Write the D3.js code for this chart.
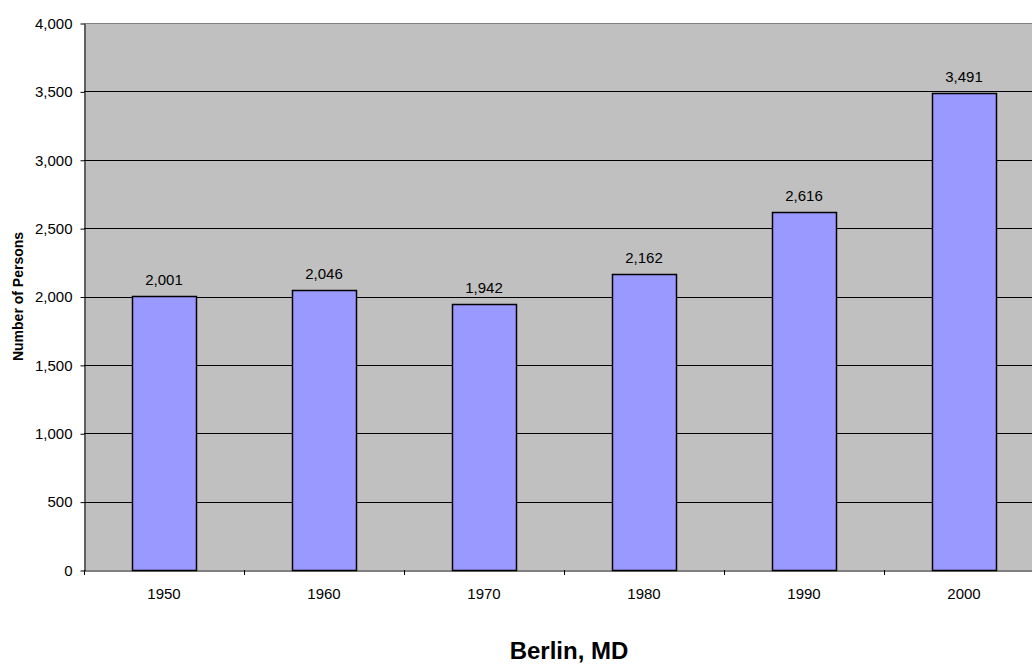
<!DOCTYPE html>
<html>
<head>
<meta charset="utf-8">
<script src="https://cdn.jsdelivr.net/npm/d3@7"></script>
<style>
  body { margin: 0; background: #fff; }
  svg { display: block; font-family: "Liberation Sans", Arial, sans-serif; }
</style>
</head>
<body>
<div id="chart"></div>
<script>
  // chart data
  const years = ["1950", "1960", "1970", "1980", "1990", "2000"];
  const persons = [2001, 2046, 1942, 2162, 2616, 3491];
  const yTicks = [0, 500, 1000, 1500, 2000, 2500, 3000, 3500, 4000];

  (function () {
  const data = years.map((y, i) => ({ year: y, value: persons[i] }));

  const W = 1032, H = 664;
  const plotLeft = 84, plotRight = 1044, plotTop = 23, plotBottom = 570;
  const fontFam = "Liberation Sans, Arial, sans-serif";

  const svg = d3.select("#chart")
    .append("svg")
    .attr("width", W)
    .attr("height", H);

  const x = d3.scaleBand()
    .domain(years)
    .range([plotLeft, plotRight])
    .paddingInner(0.6)
    .paddingOuter(0.3);

  const y = d3.scaleLinear()
    .domain([0, 4000])
    .range([plotBottom, plotTop]);

  // plot background
  svg.append("rect")
    .attr("x", plotLeft).attr("y", plotTop)
    .attr("width", plotRight - plotLeft).attr("height", plotBottom - plotTop)
    .attr("fill", "#c0c0c0");

  // gridlines
  svg.selectAll(".grid")
    .data(yTicks.filter(t => t > 0))
    .join("line")
    .attr("x1", plotLeft).attr("x2", plotRight)
    .attr("y1", d => Math.round(y(d)) + 0.5)
    .attr("y2", d => Math.round(y(d)) + 0.5)
    .attr("stroke", d => d === 4000 ? "#808080" : "#000")
    .attr("stroke-width", 1);

  // Y axis
  const yAxis = svg.append("g")
    .attr("transform", `translate(${plotLeft + 0.5},0.5)`)
    .call(d3.axisLeft(y).tickValues(yTicks).tickSize(4).tickSizeOuter(0)
      .tickFormat(d3.format(",")));
  yAxis.select(".domain").attr("stroke", "#000");
  yAxis.selectAll("text")
    .attr("font-size", 15)
    .attr("font-family", fontFam)
    .attr("fill", "#000")
    .attr("x", -12);

  // X axis: labels centred, ticks at category boundaries
  const xAxis = svg.append("g")
    .attr("transform", `translate(0,${plotBottom + 0.5})`)
    .call(d3.axisBottom(x).tickSize(0).tickSizeOuter(0));
  xAxis.select(".domain").attr("stroke", "#000");
  xAxis.selectAll("text")
    .attr("font-size", 15)
    .attr("font-family", fontFam)
    .attr("fill", "#000")
    .attr("dy", null)
    .attr("y", 28.5);

  const edge = x.step() * x.paddingOuter();
  svg.selectAll(".xtick")
    .data(years)
    .join("line")
    .attr("x1", d => Math.round(x(d) - edge) + 0.5)
    .attr("x2", d => Math.round(x(d) - edge) + 0.5)
    .attr("y1", plotBottom).attr("y2", plotBottom + 5)
    .attr("stroke", "#000");

  // bars
  svg.selectAll(".bar")
    .data(data)
    .join("rect")
    .attr("x", d => Math.round(x(d.year)) + 0.5)
    .attr("y", d => Math.round(y(d.value)) + 0.5)
    .attr("width", x.bandwidth())
    .attr("height", d => plotBottom - Math.round(y(d.value)))
    .attr("fill", "#9999ff")
    .attr("stroke", "#000")
    .attr("stroke-width", 1.5);

  // value labels
  svg.selectAll(".lbl")
    .data(data)
    .join("text")
    .attr("x", d => x(d.year) + x.bandwidth() / 2)
    .attr("y", d => y(d.value) - 11)
    .attr("text-anchor", "middle")
    .attr("font-size", 15)
    .attr("fill", "#000")
    .text(d => d3.format(",")(d.value));

  // axis title
  svg.append("text")
    .attr("transform", `translate(23,${(plotTop + plotBottom) / 2}) rotate(-90)`)
    .attr("text-anchor", "middle")
    .attr("font-size", 14)
    .attr("font-weight", "bold")
    .text("Number of Persons");

  // chart title
  svg.append("text")
    .attr("x", 569)
    .attr("y", 659)
    .attr("text-anchor", "middle")
    .attr("font-size", 24)
    .attr("font-weight", "bold")
    .text("Berlin, MD");
  })();
</script>
</body>
</html>
